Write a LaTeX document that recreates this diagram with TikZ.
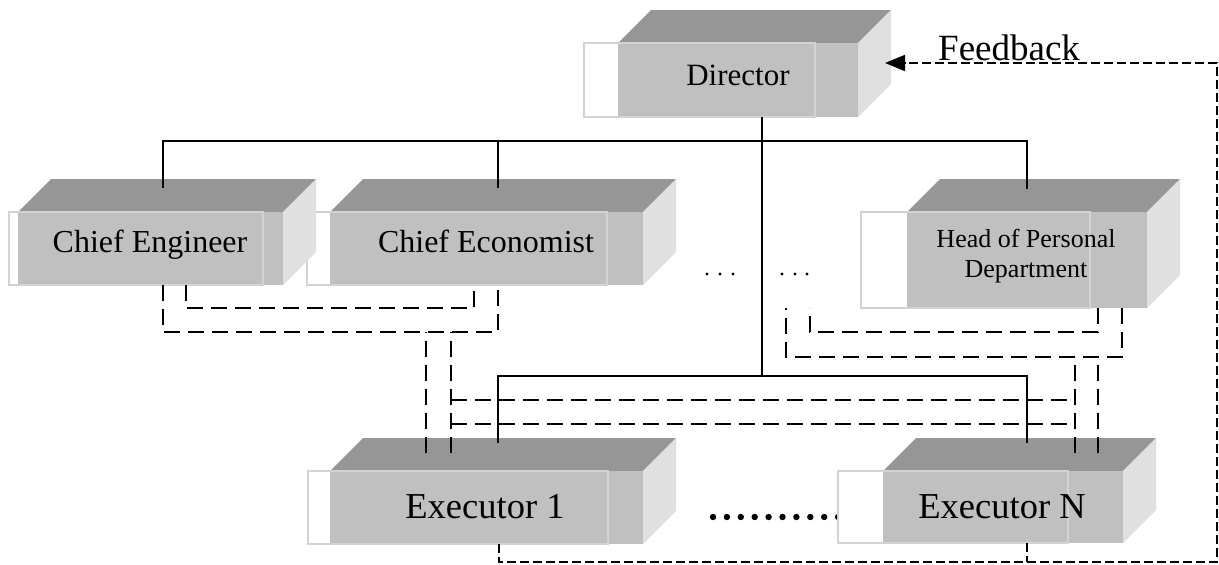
\documentclass[tikz,border=0pt]{standalone}
\usepackage{fontspec}
\setmainfont{Liberation Serif}
\usetikzlibrary{arrows.meta,fit}

\definecolor{topgray}{HTML}{969696}
\definecolor{frontgray}{HTML}{C0C0C0}
\definecolor{sidegray}{HTML}{E0E0E0}
\definecolor{rimgray}{HTML}{D3D3D3}

\tikzset{
  boxtop/.style={fill=topgray},
  boxside/.style={fill=sidegray},
  boxfront/.style={fill=frontgray},
  boxrim/.style={draw=rimgray, line width=1.6pt},
  frontface/.style={inner sep=0pt, outer sep=0pt},
  label/.style={inner sep=0pt, anchor=base},
  wire/.style={line width=2pt},
  linkdash/.style={line width=2pt, dash pattern=on 16pt off 8pt},
  fbdash/.style={line width=1.8pt, dash pattern=on 9pt off 4pt},
}

% 3-D block: #1 name, #2 tab left, #3 front left, #4 tab right,
% #5 front right, #6 front top, #7 front bottom (pixel-style coordinates)
\newcommand\cubebox[7]{%
  \fill[boxtop] (#3,#6) -- ++(33,-33) -- (#5+33,#6-33) -- (#5,#6) -- cycle;
  \fill[boxside] (#5,#6) -- (#5+33,#6-33) -- (#5+33,#7-33) -- (#5,#7) -- cycle;
  \fill[boxfront] (#3,#6) rectangle (#5,#7);
  \fill[white] (#2,#6) rectangle (#3,#7);
  \draw[boxrim] (#2,#6) rectangle (#4,#7);
  \node[frontface, fit={(#3,#6) (#5,#7)}, name=#1] {};
}

\begin{document}
\begin{tikzpicture}[x=1pt,y=-1pt]
\useasboundingbox (0,0) rectangle (1219,565);

% blocks
\cubebox{dir}{584}{618}{815}{858}{43}{117}
\cubebox{co}{307}{330}{607}{643}{212}{285}
\cubebox{ce}{9}{18}{263}{283}{212}{285}
\cubebox{hp}{861}{907}{1090}{1147}{212}{308}
\cubebox{e1}{308}{330}{608}{643}{471}{544}

% ellipsis between the executors
\foreach \i in {0,...,9} \fill (713+13.9*\i,517) circle (3.2pt);

\cubebox{en}{838}{883}{1068}{1123}{471}{543}

% ellipsis between the chiefs
\foreach \x in {707,720,733,782,795,807} \fill (\x,274) circle (1.6pt);

% block labels
\node[label, font=\fontsize{31}{36}\selectfont] (dirtxt) at (738,85) {Director};
\node[label, font=\fontsize{32}{38}\selectfont] (cetxt) at (150,252) {Chief Engineer};
\node[label, font=\fontsize{32}{38}\selectfont] (cotxt) at (486,252) {Chief Economist};
\node[label, font=\fontsize{26}{30}\selectfont] (hptxt1) at (1026,247) {Head of Personal};
\node[label, font=\fontsize{26}{30}\selectfont] (hptxt2) at (1026,277) {Department};
\node[label, font=\fontsize{36.5}{42}\selectfont] (e1txt) at (485,518) {Executor 1};
\node[label, font=\fontsize{36.5}{42}\selectfont] (entxt) at (1002,518) {Executor N};
\node[label, anchor=base west, font=\fontsize{37}{42}\selectfont] (fbtxt) at (938,60) {Feedback};

% free ends of the personnel-department links
\coordinate (hpin) at (810,308);
\coordinate (hpout) at (786,308);
\coordinate (fbturn) at (1217,562);

% line of command: director to chiefs
\draw[wire] ([xshift=12.5pt,yshift=24pt]ce.north) -- ++(0,-47) -| ([yshift=23pt]hp.north);
\draw[wire] ([xshift=11.5pt,yshift=24pt]co.north) -- ++(0,-47);
% line of command: director to executors
\draw[wire] ([xshift=24pt]dir.south) -- ++(0,259);
\draw[wire] ([xshift=11.5pt,yshift=28pt]e1.north) -- ++(0,-67) -| ([xshift=24pt,yshift=28pt]en.north);

% functional links of the chief engineer and the chief economist
\draw[linkdash] ([xshift=35.5pt]ce.south) -- ++(0,23) -| ([xshift=-12.5pt]co.south);
\draw[linkdash] ([xshift=12.5pt]ce.south) -- ++(0,47) -| ([xshift=11.5pt]co.south);
\draw[linkdash] ([xshift=-60.5pt,yshift=18pt]e1.north) -- ++(0,-121);
\draw[linkdash] ([xshift=-35.5pt,yshift=18pt]e1.north) -- ++(0,-121);

% functional links of the personnel department
\draw[linkdash] ([xshift=71pt]hp.south) -- ++(0,24) -| (hpin);
\draw[linkdash] ([xshift=95pt]hp.south) -- ++(0,49) -| (hpout);
\draw[linkdash] ([xshift=72pt,yshift=18pt]en.north) -- ++(0,-96);
\draw[linkdash] ([xshift=95pt,yshift=18pt]en.north) -- ++(0,-96);

% cross links between the two groups
\draw[linkdash] ([xshift=-35.5pt,yshift=71pt]e1.north) -- ([xshift=72pt,yshift=71pt]en.north);
\draw[linkdash] ([xshift=-35.5pt,yshift=47pt]e1.north) -- ([xshift=72pt,yshift=47pt]en.north);

% feedback loop
\draw[fbdash, -{Triangle[length=20pt,width=16pt]}] ([xshift=12.5pt]e1.south) |- (fbturn) |- ([xshift=27pt,yshift=17pt]dir.east);
\draw[fbdash] ([xshift=24pt]en.south) -- ++(0,19);
\end{tikzpicture}
\end{document}
